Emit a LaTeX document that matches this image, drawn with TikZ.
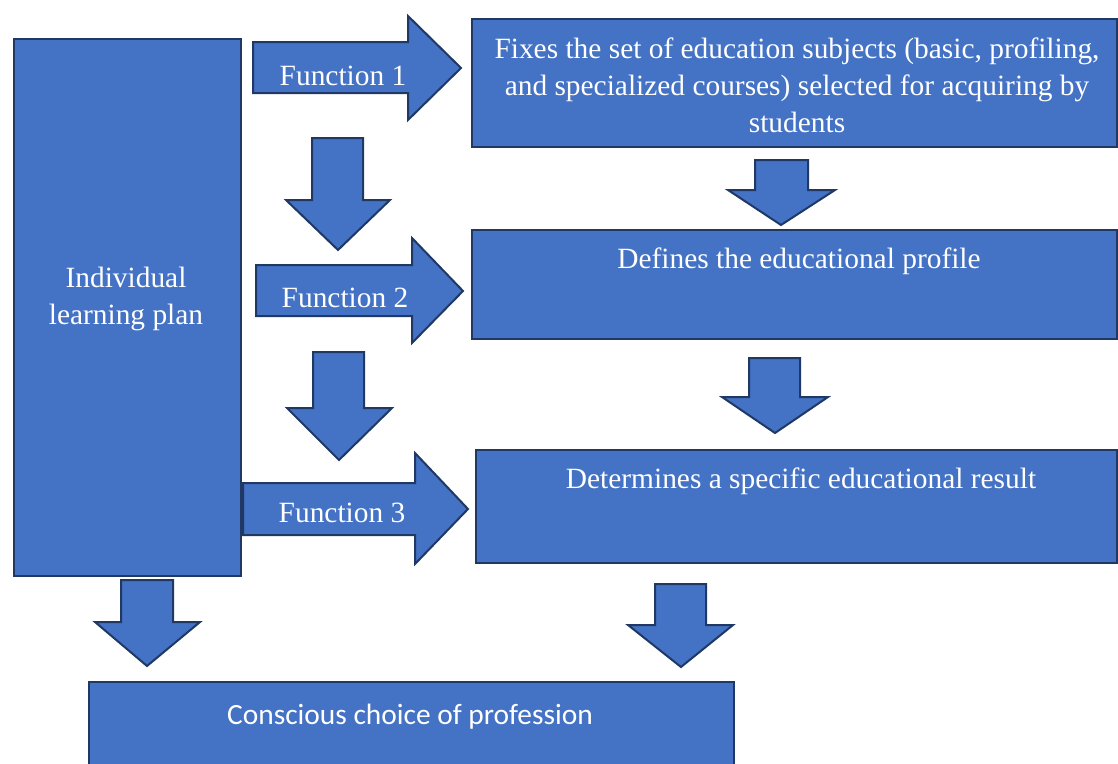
\documentclass[tikz,border=0pt]{standalone}
\usepackage{fontspec}
\setmainfont{Liberation Serif}
\newfontfamily\calibrifont{Carlito}
\usepackage{xcolor}
\usepackage{tikz}
\usetikzlibrary{positioning}
\definecolor{planblue}{HTML}{4472C4}
\definecolor{planline}{HTML}{1F3864}
\tikzset{
  planbox/.style={draw=planline,fill=planblue,line width=2pt,inner sep=0pt,anchor=north west},
  blockarrow/.style={draw=planline,fill=planblue,line width=2pt,line join=miter},
  plantext/.style={text=white,font=\fontsize{29.4}{37}\selectfont,align=center,inner sep=0pt},
}

\begin{document}
\begin{tikzpicture}[x=1pt,y=-1pt]
				\useasboundingbox (0,0) rectangle (1118,763);
				% boxes
				\node[planbox,minimum width=227pt,minimum height=537pt] (plan) at (13,38) {};
				\node[planbox,minimum width=645pt,minimum height=128pt] (fixes) at (471,18) {};
				\node[planbox,minimum width=645pt,minimum height=109pt] (profile) at (471,229) {};
				\node[planbox,minimum width=641pt,minimum height=113pt] (result) at (475,449) {};
				\node[planbox,minimum width=645pt,minimum height=95pt] (choice) at (88,681) {};
				% block arrows to the right
				\draw[blockarrow] (253,42) -- (408,42) -- (408,16) -- (461,68) -- (408,120) -- (408,93) -- (253,93) -- cycle;
				\draw[blockarrow] (256,265) -- (412,265) -- (412,238) -- (463,291) -- (412,343) -- (412,316) -- (256,316) -- cycle;
				\draw[blockarrow] (243,483) -- (415,483) -- (415,453) -- (468,509) -- (415,564) -- (415,535) -- (243,535) -- cycle;
				% block arrows down
				\draw[blockarrow] (312,138) -- (363,138) -- (363,200) -- (390,200) -- (338,250) -- (286,200) -- (312,200) -- cycle;
				\draw[blockarrow] (755,160) -- (808,160) -- (808,190) -- (835,190) -- (781,225) -- (728,190) -- (755,190) -- cycle;
				\draw[blockarrow] (313,352) -- (364,352) -- (364,408) -- (392,408) -- (339,460) -- (287,408) -- (313,408) -- cycle;
				\draw[blockarrow] (749,358) -- (800,358) -- (800,397) -- (828,397) -- (775,433) -- (722,397) -- (749,397) -- cycle;
				\draw[blockarrow] (121,580) -- (173,580) -- (173,622) -- (200,622) -- (147,666) -- (95,622) -- (121,622) -- cycle;
				\draw[blockarrow] (655,584) -- (706,584) -- (706,625) -- (733,625) -- (681,667) -- (628,625) -- (655,625) -- cycle;
				% texts
				\node[plantext] (plantxt) at (126,299) {Individual\\learning plan};
				\node[plantext] (fun1) at (343,76) {Function 1};
				\node[plantext] (fun2) at (345,298) {Function 2};
				\node[plantext] (fun3) at (342,513) {Function 3};
				\node[plantext] (fixestxt) at (797,85) {Fixes the set of education subjects (basic, profiling,\\and specialized courses) selected for acquiring by\\students};
				\node[plantext] (profiletxt) at (799,261) {Defines the educational profile};
				\node[plantext] (resulttxt) at (801,481) {Determines a specific educational result};
				\node[plantext,font=\calibrifont\fontsize{29.4}{32}\selectfont] (choicetxt) at (410,717) {Conscious choice of profession};
			\end{tikzpicture}
\end{document}
